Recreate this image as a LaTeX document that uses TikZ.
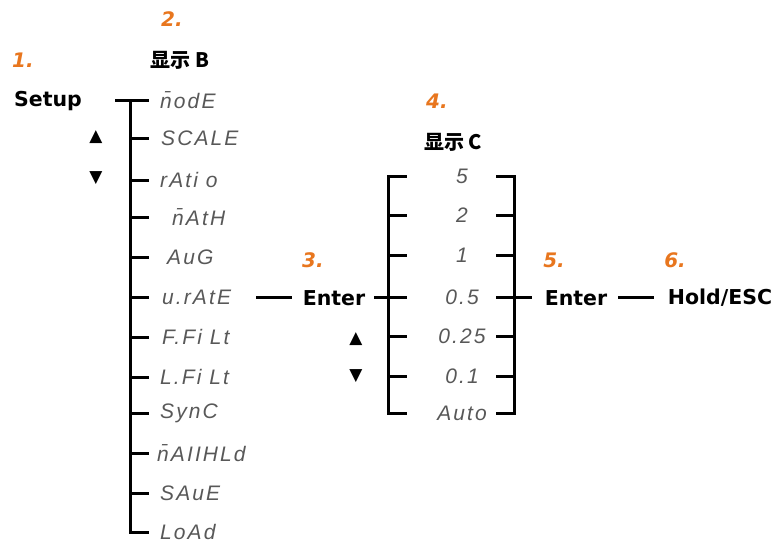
\documentclass[tikz,border=0pt]{standalone}
\usepackage{fontspec}
\setmainfont{DejaVu Sans}
\newfontfamily\cjkfont{Noto Sans CJK SC}
\newfontfamily\segfont[LetterSpace=10]{Liberation Sans}
\newfontfamily\symfont{DejaVu Sans}
\definecolor{steporange}{HTML}{E8761E}
\definecolor{seggray}{HTML}{585858}
\tikzset{
  lbl/.style={font=\fontsize{20.5}{24}\selectfont\bfseries, inner sep=0pt},
  cjklbl/.style={font=\cjkfont\fontsize{20}{24}\selectfont\bfseries, inner sep=0pt},
  stepnum/.style={font=\fontsize{20}{24}\selectfont\bfseries\itshape, text=steporange, inner sep=0pt},
  seg/.style={font=\segfont\fontsize{21}{24}\selectfont\itshape, text=seggray, inner sep=0pt},
  arrowkey/.style={font=\symfont\fontsize{17}{20}\selectfont, inner sep=0pt},
  wire/.style={line width=3pt, black, line cap=rect},
}
\begin{document}
\begin{tikzpicture}[x=1pt,y=-1pt]
\useasboundingbox (0,0) rectangle (779,549);

% step numbers
\node[stepnum] (n1) at (23,60) {1.};
\node[stepnum] (n2) at (172,19) {2.};
\node[stepnum] (n3) at (313,260) {3.};
\node[stepnum] (n4) at (437,101) {4.};
\node[stepnum] (n5) at (554,260) {5.};
\node[stepnum] (n6) at (675,260) {6.};

% headings and keys
\node[lbl] (setup) at (48,101) {Setup};
\node[cjklbl] (dispB) at (180,60) {显示 B};
\node[cjklbl] (dispC) at (453,142) {显示 C};
\node[lbl] (enter1) at (334,298) {Enter};
\node[lbl] (enter2) at (576,298) {Enter};
\node[lbl] (hold) at (720,298) {Hold/ESC};

\node[arrowkey] (upB) at (96,137) {▲};
\node[arrowkey] (dnB) at (96,178) {▼};
\node[arrowkey] (upC) at (356,339) {▲};
\node[arrowkey] (dnC) at (356,376) {▼};

% menu B: trunk and branches
\foreach \i/\y/\x/\t in {1/100/160/\=nodE, 2/138/161/SCALE, 3/180/160/rAti o,
    4/217/172/\=nAtH, 5/257/167/AuG, 6/297/162/u.rAtE, 7/337/162/F.Fi Lt,
    8/377/160/L.Fi Lt, 9/413/160/SynC, 10/453/157/\=nAIIHLd, 11/493/160/SAuE,
    12/532/160/LoAd} {
  \coordinate (b\i) at (130,\y);
  \coordinate (be\i) at (147,\y);
  \node[seg, anchor=west] (mb\i) at (\x,\y) {\t};
  \draw[wire] (b\i) -- (be\i);
}
\coordinate (setupend) at (116,100);
\draw[wire] (setupend) -- (b1);
\draw[wire] (b1) -- (b12);

% menu C: two brackets
\foreach \i/\y/\t in {1/176/5, 2/215/2, 3/255/1, 4/297/0.5, 5/336/0.25,
    6/376/0.1, 7/413/Auto} {
  \coordinate (cl\i) at (388,\y);
  \coordinate (cle\i) at (405,\y);
  \coordinate (cr\i) at (514,\y);
  \coordinate (cre\i) at (497,\y);
  \node[seg] (mc\i) at (462,\y) {\t};
  \draw[wire] (cl\i) -- (cle\i);
  \draw[wire] (cr\i) -- (cre\i);
}
\draw[wire] (cl1) -- (cl7);
\draw[wire] (cr1) -- (cr7);

% links between stages
\coordinate (urateend) at (257,297);
\coordinate (enter1in) at (290,297);
\coordinate (enter1out) at (375,297);
\coordinate (crout) at (530,297);
\coordinate (enter2out) at (619,297);
\coordinate (holdin) at (652,297);
\draw[wire] (urateend) -- (enter1in);
\draw[wire] (enter1out) -- (cl4);
\draw[wire] (cr4) -- (crout);
\draw[wire] (enter2out) -- (holdin);
\end{tikzpicture}
\end{document}
